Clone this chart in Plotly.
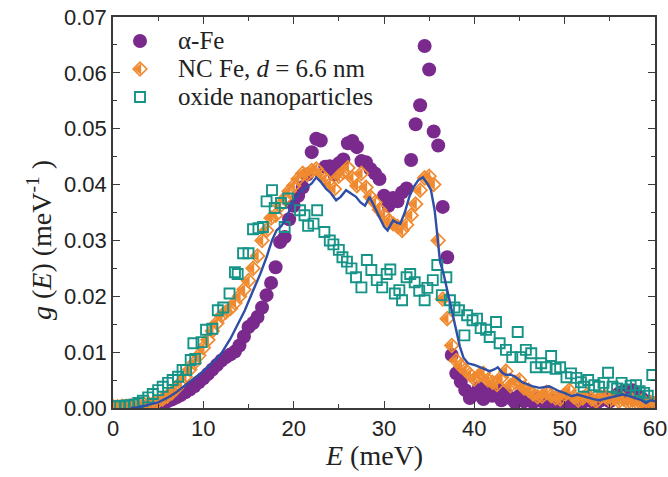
import plotly.graph_objects as go

# ---------------- data ----------------
# alpha-Fe (purple circles)
E_fe = [3.0, 3.5, 4.0, 4.5, 5.0, 5.5, 6.0, 6.5, 7.0, 7.5, 8.0, 8.5, 9.0, 9.5, 10.0, 10.5, 11.0, 11.5,
        12.0, 12.5, 13.0, 13.5, 14.0, 14.5, 15.0, 15.5, 16.0, 16.5, 17.0, 17.5, 18.0, 18.5, 19.0, 19.5,
        20.0, 20.5, 21.0, 21.5, 22.0, 22.5, 23.0, 23.5, 24.0, 24.5, 25.0, 25.5, 26.0, 26.5, 27.0, 27.5,
        28.0, 28.5, 29.0, 29.5, 30.0, 30.5, 31.0, 31.5, 32.0, 32.5, 33.0, 33.5, 34.0, 34.5, 35.0, 35.5,
        36.0, 36.5, 37.0, 37.5, 38.0, 38.5, 39.0, 39.5, 40.0, 40.5, 41.0, 41.5, 42.0, 42.5, 43.0, 43.5,
        44.0, 44.5, 45.0, 45.5, 46.0, 46.5, 47.0, 47.5, 48.0, 48.5, 49.0, 49.5, 50.0, 50.5, 51.0, 51.5,
        52.0, 52.5, 53.0, 53.5, 54.0, 54.5, 55.0, 55.5, 56.0, 56.5, 57.0, 57.5, 58.0, 58.5, 59.0, 59.5, 60.0]
g_fe = [0.0000, 0.0001, 0.0002, 0.0004, 0.0006, 0.0009, 0.0012, 0.0015, 0.0019, 0.0023, 0.0028, 0.0033,
        0.0039, 0.0046, 0.0053, 0.0061, 0.0069, 0.0077, 0.0085, 0.0091, 0.0096, 0.0101, 0.0112, 0.0128,
        0.0145, 0.0152, 0.0163, 0.0180, 0.0202, 0.0224, 0.0252, 0.0297, 0.0306, 0.0338, 0.0362, 0.0380,
        0.0395, 0.0418, 0.0458, 0.0482, 0.0479, 0.0432, 0.0433, 0.0418, 0.0438, 0.0445, 0.0474, 0.0478,
        0.0467, 0.0442, 0.0440, 0.0428, 0.0420, 0.0410, 0.0380, 0.0362, 0.0376, 0.0370, 0.0386, 0.0393,
        0.0444, 0.0508, 0.0542, 0.0648, 0.0606, 0.0495, 0.0470, 0.0360, 0.0270, 0.0095, 0.0062, 0.0047,
        0.0032, 0.0018, 0.0024, 0.0036, 0.0016, 0.0030, 0.0022, 0.0034, 0.0014, 0.0026, 0.0018, 0.0010,
        0.0022, 0.0012, 0.0018, 0.0010, 0.0016, 0.0012, 0.0008, 0.0014, 0.0010, 0.0016, 0.0010, 0.0012,
        0.0008, 0.0014, 0.0010, 0.0016, 0.0012, 0.0008, 0.0014, 0.0018, 0.0012, 0.0020, 0.0026, 0.0030,
        0.0028, 0.0032, 0.0022, 0.0018, 0.0012, 0.0010, 0.0008]

# NC Fe, d = 6.6 nm (orange half-filled diamonds)
E_nc = [0.0, 0.5, 1.0, 1.5, 2.0, 2.5, 3.0, 3.5, 4.0, 4.5, 5.0, 5.5, 6.0, 6.5, 7.0, 7.5, 8.0, 8.5, 9.0,
        9.5, 10.0, 10.5, 11.0, 11.5, 12.0, 12.5, 13.0, 13.5, 14.0, 14.5, 15.0, 15.5, 16.0, 16.5, 17.0,
        17.5, 18.0, 18.5, 19.0, 19.5, 20.0, 20.5, 21.0, 21.5, 22.0, 22.5, 23.0, 23.5, 24.0, 24.5, 25.0,
        25.5, 26.0, 26.5, 27.0, 27.5, 28.0, 28.5, 29.0, 29.5, 30.0, 30.5, 31.0, 31.5, 32.0, 32.5, 33.0,
        33.5, 34.0, 34.5, 35.0, 35.5, 36.0, 36.5, 37.0, 37.5, 38.0, 38.5, 39.0, 39.5, 40.0, 40.5, 41.0,
        41.5, 42.0, 42.5, 43.0, 43.5, 44.0, 44.5, 45.0, 45.5, 46.0, 46.5, 47.0, 47.5, 48.0, 48.5, 49.0,
        49.5, 50.0, 50.5, 51.0, 51.5, 52.0, 52.5, 53.0, 53.5, 54.0, 54.5, 55.0, 55.5, 56.0, 56.5, 57.0,
        57.5, 58.0, 58.5, 59.0, 59.5, 60.0]
g_nc = [0.0002, 0.0002, 0.0003, 0.0003, 0.0004, 0.0004, 0.0005, 0.0006, 0.0007, 0.0009, 0.0012, 0.0016,
        0.0021, 0.0027, 0.0035, 0.0045, 0.0056, 0.0069, 0.0081, 0.0094, 0.0108, 0.0122, 0.0138, 0.0152,
        0.0165, 0.0172, 0.0178, 0.0188, 0.0200, 0.0212, 0.0228, 0.0250, 0.0272, 0.0300, 0.0318, 0.0340,
        0.0345, 0.0362, 0.0375, 0.0388, 0.0398, 0.0410, 0.0420, 0.0418, 0.0425, 0.0428, 0.0418, 0.0410,
        0.0400, 0.0392, 0.0415, 0.0422, 0.0430, 0.0412, 0.0398, 0.0420, 0.0395, 0.0378, 0.0368, 0.0355,
        0.0345, 0.0335, 0.0330, 0.0325, 0.0318, 0.0328, 0.0345, 0.0365, 0.0390, 0.0412, 0.0415, 0.0400,
        0.0300, 0.0195, 0.0160, 0.0112, 0.0085, 0.0075, 0.0068, 0.0060, 0.0052, 0.0058, 0.0062, 0.0050,
        0.0046, 0.0042, 0.0055, 0.0066, 0.0040, 0.0046, 0.0050, 0.0036, 0.0032, 0.0025, 0.0020, 0.0021,
        0.0028, 0.0022, 0.0018, 0.0016, 0.0024, 0.0032, 0.0020, 0.0014, 0.0018, 0.0024, 0.0016, 0.0012,
        0.0020, 0.0020, 0.0014, 0.0018, 0.0012, 0.0016, 0.0010, 0.0014, 0.0010, 0.0012, 0.0008, 0.0010,
        0.0008]

# oxide nanoparticles (teal open squares)
E_ox = [0.3, 0.8, 1.3, 1.8, 2.3, 2.8, 3.3, 3.9, 4.4, 5.0, 5.5, 6.1, 6.6, 7.2, 7.7, 8.1, 8.6, 9.1, 8.9,
        9.8, 10.3, 11.0, 11.6, 12.2, 12.9, 13.5, 13.8, 14.4, 15.0, 15.5, 16.1, 16.6, 17.0, 17.6, 17.9,
        18.6, 19.4, 19.0, 20.7, 21.2, 21.6, 22.2, 22.6, 23.4, 24.0, 24.4, 25.0, 25.4, 25.9, 26.4, 26.9,
        27.5, 28.1, 28.6, 29.2, 29.8, 30.3, 30.7, 31.2, 31.7, 32.0, 32.5, 32.9, 33.4, 33.9, 34.5, 34.8,
        35.4, 35.9, 36.4, 36.9, 37.3, 37.8, 38.3, 38.9, 39.2, 39.8, 40.3, 40.7, 41.3, 41.7, 42.4, 42.8,
        43.5, 44.2, 44.8, 45.1, 45.7, 46.3, 46.8, 47.4, 48.0, 48.5, 49.0, 49.5, 50.2, 50.7, 51.3, 51.8,
        52.1, 52.6, 53.3, 53.8, 54.3, 54.8, 55.3, 55.8, 56.3, 56.8, 57.3, 57.9, 58.3, 58.8, 59.2, 59.7]
g_ox = [0.0003, 0.0003, 0.0004, 0.0005, 0.0006, 0.0009, 0.0013, 0.0019, 0.0025, 0.0032, 0.0038, 0.0045,
        0.0050, 0.0056, 0.0068, 0.0068, 0.0086, 0.0088, 0.0116, 0.0118, 0.0140, 0.0142, 0.0175, 0.0180,
        0.0205, 0.0243, 0.0240, 0.0277, 0.0277, 0.0320, 0.0322, 0.0324, 0.0370, 0.0390, 0.0358, 0.0367,
        0.0375, 0.0324, 0.0354, 0.0345, 0.0326, 0.0330, 0.0354, 0.0315, 0.0300, 0.0293, 0.0283, 0.0270,
        0.0262, 0.0250, 0.0234, 0.0216, 0.0265, 0.0247, 0.0229, 0.0216, 0.0240, 0.0248, 0.0205, 0.0211,
        0.0193, 0.0234, 0.0240, 0.0225, 0.0210, 0.0193, 0.0215, 0.0229, 0.0256, 0.0202, 0.0234, 0.0193,
        0.0180, 0.0175, 0.0130, 0.0166, 0.0157, 0.0160, 0.0143, 0.0140, 0.0127, 0.0154, 0.0116, 0.0104,
        0.0091, 0.0136, 0.0091, 0.0104, 0.0098, 0.0073, 0.0080, 0.0073, 0.0093, 0.0070, 0.0073, 0.0055,
        0.0062, 0.0054, 0.0046, 0.0038, 0.0050, 0.0041, 0.0038, 0.0045, 0.0063, 0.0038, 0.0035, 0.0045,
        0.0033, 0.0040, 0.0041, 0.0030, 0.0027, 0.0022, 0.0059]

# blue line
E_line = [2.0, 3.0, 4.0, 5.0, 6.0, 7.0, 8.0, 9.0, 10.0, 11.0, 12.0, 13.0, 14.0, 14.6, 15.5, 16.3, 17.0,
          17.6, 18.1, 18.6, 19.2, 19.8, 20.3, 20.8, 21.4, 22.0, 22.5, 23.0, 23.6, 24.1, 24.7, 25.2, 25.8,
          26.3, 26.9, 27.4, 27.9, 28.4, 28.9, 29.5, 30.0, 30.4, 31.0, 31.4, 31.8, 32.3, 32.8, 33.3, 33.8,
          34.3, 34.8, 35.2, 35.6, 35.9, 36.2, 36.6, 37.2, 37.6, 38.0, 38.4, 38.8, 39.3, 40.0, 40.6, 41.2,
          41.7, 42.2, 42.6, 43.1, 43.5, 44.0, 44.6, 45.3, 45.9, 46.4, 47.2, 47.9, 48.3, 48.9, 49.4, 50.1,
          50.8, 51.4, 52.0, 52.6, 53.2, 53.8, 54.5, 55.2, 55.8, 56.4, 56.8, 57.4, 57.9, 58.5, 59.0, 59.5, 60.0]
g_line = [0.0000, 0.0002, 0.0006, 0.0010, 0.0018, 0.0028, 0.0041, 0.0054, 0.0066, 0.0081, 0.0098, 0.0124,
          0.0155, 0.0175, 0.0210, 0.0240, 0.0270, 0.0300, 0.0318, 0.0325, 0.0340, 0.0365, 0.0378, 0.0388,
          0.0395, 0.0402, 0.0413, 0.0405, 0.0392, 0.0385, 0.0372, 0.0378, 0.0390, 0.0384, 0.0378, 0.0368,
          0.0362, 0.0378, 0.0362, 0.0342, 0.0325, 0.0318, 0.0336, 0.0332, 0.0330, 0.0350, 0.0378, 0.0396,
          0.0408, 0.0413, 0.0402, 0.0390, 0.0355, 0.0310, 0.0262, 0.0240, 0.0195, 0.0165, 0.0138, 0.0110,
          0.0090, 0.0080, 0.0077, 0.0073, 0.0070, 0.0066, 0.0069, 0.0073, 0.0063, 0.0059, 0.0060, 0.0055,
          0.0046, 0.0042, 0.0039, 0.0036, 0.0038, 0.0039, 0.0034, 0.0030, 0.0026, 0.0021, 0.0024, 0.0021,
          0.0018, 0.0016, 0.0014, 0.0017, 0.0020, 0.0022, 0.0024, 0.0023, 0.0020, 0.0018, 0.0014, 0.0009,
          0.0014, 0.0012]

x_ticks = [0, 10, 20, 30, 40, 50, 60]
y_ticks = [0.00, 0.01, 0.02, 0.03, 0.04, 0.05, 0.06, 0.07]

legend_labels = ["α-Fe", "NC Fe, <i>d</i> = 6.6 nm", "oxide nanoparticles"]
x_title = "<i>E</i> (meV)"
y_title = "<i>g</i> (<i>E</i>) (meV<sup>-1</sup> )"

# ---------------- style ----------------
PURPLE = "#7a2a8c"
ORANGE = "#f08a30"
TEAL = "#179488"
BLUE = "#2f4fa6"
SERIF = "Liberation Serif, Times New Roman"
SANS = "Liberation Sans, Arial"

W, H = 668, 477
ML, MR, MT, MB = 113, 13, 17, 69
PW, PH = W - ML - MR, H - MT - MB
X_RANGE = [0, 60]
px_per_unit = PW / (X_RANGE[1] - X_RANGE[0])
TRI_PX = -1.3                       # shift of filled half of diamond (pixels)
tri_shift = TRI_PX / px_per_unit


def px_to_paper_x(px):
    return (px - ML) / PW


def px_to_paper_y(py):
    return (H - MB - py) / PH


# legend layout (pixel positions in the figure)
LEG_SYMBOL_X = 140
LEG_TEXT_X = 176
LEG_ROWS_Y = [41, 69, 97]

circle_m = dict(symbol="circle", size=14, color=PURPLE, line=dict(width=0))
diamond_m = dict(symbol="diamond-open", size=10.5, color=ORANGE, line=dict(width=1.7, color=ORANGE))
tri_m = dict(symbol="triangle-left", size=10, color=ORANGE, line=dict(width=0))
square_m = dict(symbol="square-open", size=10, color=TEAL, line=dict(width=1.9, color=TEAL))

fig = go.Figure()

fig.add_trace(go.Scatter(x=E_fe, y=g_fe, mode="markers", name="α-Fe", marker=circle_m))
fig.add_trace(go.Scatter(x=E_nc, y=g_nc, mode="markers", name="NC Fe", marker=diamond_m))
fig.add_trace(go.Scatter(x=[e + tri_shift for e in E_nc], y=g_nc, mode="markers",
                         hoverinfo="skip", marker=tri_m))
fig.add_trace(go.Scatter(x=E_ox, y=g_ox, mode="markers", name="oxide nanoparticles", marker=square_m))
fig.add_trace(go.Scatter(x=E_line, y=g_line, mode="lines", line=dict(color=BLUE, width=2.4)))

# legend keys drawn on an overlay axis spanning the plot area in paper units
lx = px_to_paper_x(LEG_SYMBOL_X)
ly = [px_to_paper_y(v) for v in LEG_ROWS_Y]
fig.add_trace(go.Scatter(x=[lx], y=[ly[0]], mode="markers", marker=circle_m,
                         xaxis="x2", yaxis="y2", hoverinfo="skip"))
fig.add_trace(go.Scatter(x=[lx], y=[ly[1]], mode="markers", marker=diamond_m,
                         xaxis="x2", yaxis="y2", hoverinfo="skip"))
fig.add_trace(go.Scatter(x=[lx + TRI_PX / PW], y=[ly[1]], mode="markers", marker=tri_m,
                         xaxis="x2", yaxis="y2", hoverinfo="skip"))
fig.add_trace(go.Scatter(x=[lx], y=[ly[2]], mode="markers", marker=square_m,
                         xaxis="x2", yaxis="y2", hoverinfo="skip"))

annotations = []
for lab, yy in zip(legend_labels, ly):
    annotations.append(dict(x=px_to_paper_x(LEG_TEXT_X), y=yy, xref="paper", yref="paper",
                            text=lab, showarrow=False, xanchor="left", yanchor="middle",
                            font=dict(family=SERIF, size=25, color="#222")))
annotations.append(dict(x=px_to_paper_x(374), y=px_to_paper_y(456), xref="paper", yref="paper",
                        text=x_title, showarrow=False, xanchor="center", yanchor="middle",
                        font=dict(family=SERIF, size=28, color="#222")))
annotations.append(dict(x=px_to_paper_x(40), y=px_to_paper_y(240), xref="paper", yref="paper",
                        text=y_title, showarrow=False, xanchor="center", yanchor="middle",
                        textangle=-90, font=dict(family=SERIF, size=28, color="#222")))

axis_common = dict(
    showline=True, linecolor="#3a3a3a", linewidth=1.5, mirror="allticks",
    ticks="inside", ticklen=7, tickwidth=1.3, tickcolor="#3a3a3a",
    showgrid=False, zeroline=False, automargin=False, ticklabeloverflow="allow",
    tickfont=dict(family=SANS, size=22, color="#222"),
)

fig.update_layout(
    width=W, height=H,
    margin=dict(l=ML, r=MR, t=MT, b=MB),
    paper_bgcolor="white", plot_bgcolor="white",
    showlegend=False,
    xaxis=dict(
        range=X_RANGE, tickvals=x_ticks, ticktext=[str(v) for v in x_ticks],
        minor=dict(dtick=5, ticks="inside", ticklen=4, tickwidth=1.2, tickcolor="#3a3a3a"),
        **axis_common,
    ),
    yaxis=dict(
        range=[0, 0.07], tickvals=y_ticks, ticktext=[f"{v:.2f}" for v in y_ticks],
        minor=dict(dtick=0.005, ticks="inside", ticklen=4, tickwidth=1.2, tickcolor="#3a3a3a"),
        **axis_common,
    ),
    xaxis2=dict(overlaying="x", range=[0, 1], visible=False, fixedrange=True),
    yaxis2=dict(overlaying="y", range=[0, 1], visible=False, fixedrange=True),
    annotations=annotations,
)

fig.write_html("out.html")
